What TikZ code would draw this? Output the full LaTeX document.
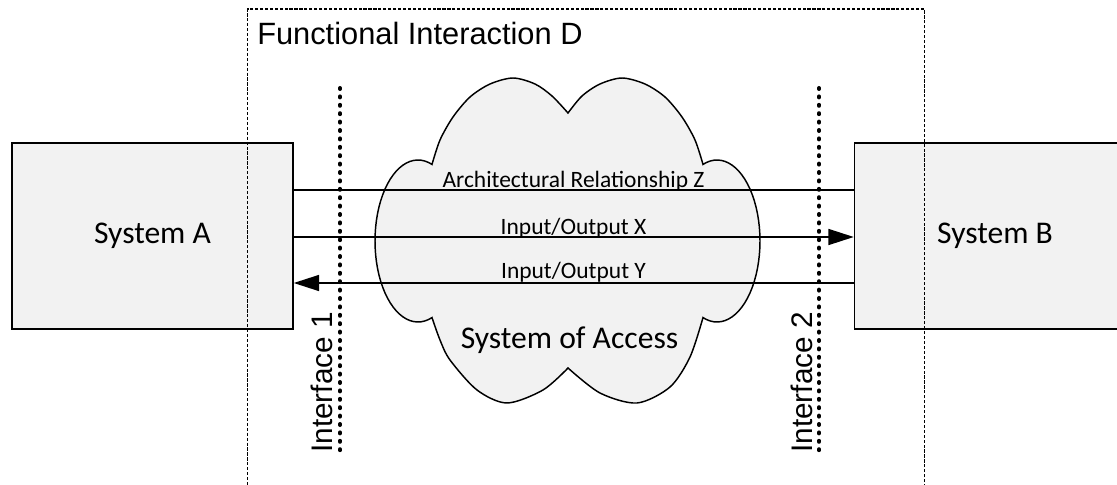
\documentclass[tikz,border=0pt]{standalone}
\usepackage{fontspec}
\setmainfont{Carlito}
\newfontfamily\arialfont{Liberation Sans}
\newcommand\titlefont{\arialfont\fontsize{23.1}{27}\selectfont}
\newcommand\bigcal{\fontsize{23.7}{28}\selectfont}
\newcommand\smallcal{\fontsize{17.6}{21}\selectfont}
\usetikzlibrary{arrows.meta}
\definecolor{boxfill}{HTML}{F2F2F2}
\begin{document}
\begin{tikzpicture}[x=0.75pt,y=-0.75pt,
  sysbox/.style={draw=black, line width=1.1pt, fill=boxfill, minimum width=210.75pt, minimum height=139.5pt, inner sep=0pt, font=\bigcal},
  conn/.style={line width=1.1pt},
  tip/.style={-{Triangle[length=19pt,width=12pt]}},
  lbl/.style={font=\smallcal, inner sep=0pt, anchor=base},
  iface/.style={line width=3pt, line cap=round, dash pattern=on 0.75pt off 5.55pt},
  ifacelbl/.style={rotate=90, anchor=base west, inner sep=0pt},
  framestyle/.style={draw, line width=0.9pt, dash pattern=on 2.4pt off 1.3pt},
  cloudstyle/.style={draw=black, line width=1.1pt, fill=boxfill, line join=miter}
]
\useasboundingbox (0,0) rectangle (1117,485);
\clip (0,0) rectangle (1117,485);

% systems
\node[sysbox] (A) at (152.5,236) {System A};
\node[sysbox] (B) at (995,236) {System B};

% functional interaction frame
\node[framestyle, anchor=north west, minimum width=507.75pt, minimum height=383.6pt, inner sep=0pt] (D) at (247,8.5) {};
\node[font=\titlefont, anchor=base west, inner sep=0pt] (title) at (257,45) {Functional Interaction D};

% cloud
\filldraw[cloudstyle]
  plot[smooth] coordinates {(432,164.4) (440,140) (453,117) (470,97) (490,84) (513,78) (535,84) (552,96) (568,113)}
  -- plot[smooth] coordinates {(568,113) (582,96) (600,84) (622,78) (645,84) (665,97) (682,117) (695,140) (703,164.4)}
  -- plot[domain=109:-109, samples=45] ({717+43*cos(\x)}, {241-81*sin(\x)})
  -- plot[smooth] coordinates {(703,317.6) (690,357) (670,387) (637,403) (600,393) (568,368)}
  -- plot[smooth] coordinates {(568,368) (543,390) (507,403) (477,390) (450,360) (440,340) (432,317.6)}
  -- plot[domain=289:71, samples=45] ({418+43*cos(\x)}, {241-81*sin(\x)})
  -- cycle;
\node[font=\bigcal, anchor=base, inner sep=0pt] (soa) at (569.5,348) {System of Access};

% connectors
\draw[conn] ([yshift=34.5pt]A.east) -- ([yshift=34.5pt]B.west);
\draw[conn,tip] ([yshift=-0.75pt]A.east) -- ([yshift=-0.75pt]B.west);
\draw[conn,tip] ([yshift=-35.25pt]B.west) -- ([yshift=-35.25pt]A.east);
\node[lbl] (lz) at (573.5,187) {Architectural Relationship Z};
\node[lbl] (lx) at (573.5,234) {Input/Output X};
\node[lbl] (ly) at (573.5,278) {Input/Output Y};

% interfaces
\coordinate (i1t) at (340,88);
\coordinate (i1b) at (340,453);
\coordinate (i2t) at (819,88);
\coordinate (i2b) at (819,453);
\draw[iface] (i1t) -- (i1b);
\draw[iface] (i2t) -- (i2b);
\node[ifacelbl] (if1) at (332,453) {\arialfont\fontsize{22.3}{26}\selectfont Interface 1};
\node[ifacelbl] (if2) at (812,453) {\arialfont\fontsize{22.3}{26}\selectfont Interface 2};
\end{tikzpicture}
\end{document}
